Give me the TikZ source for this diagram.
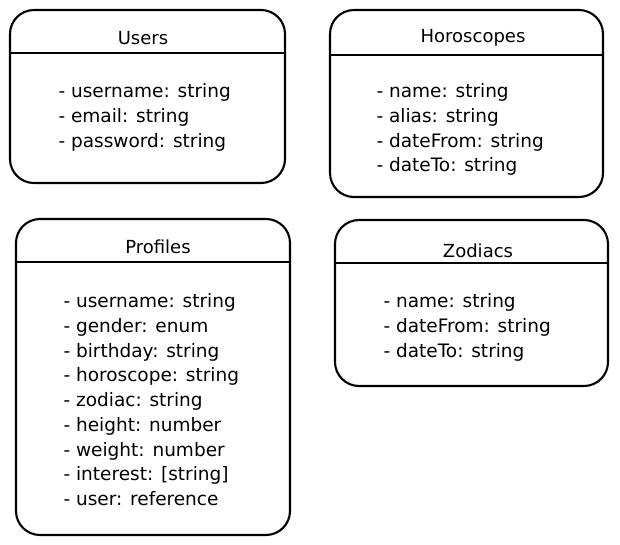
\documentclass[tikz,border=0pt]{standalone}
\usepackage{fontspec}
\setmainfont{DejaVu Sans}

\begin{document}
\begin{tikzpicture}[x=1pt,y=1pt,
	entity/.style={draw, line width=2.1pt, rounded corners=24pt},
	divider/.style={line width=2.5pt},
	title/.style={font=\fontsize{18}{21}\selectfont},
	fields/.style={anchor=base west, align=left, font=\fontsize{18.5}{24.6}\selectfont}]

	\useasboundingbox (0,0) rectangle (620,-545);

	% Users
	\draw[entity] (10,-10) rectangle (285,-183);
	\draw[divider] (10,-53) -- (285,-53);
	\node[title] (users) at (143,-38) {Users};
	% base = last line
	\node[fields] (usersf) at (55,-147.2) {- username: string\\- email: string\\- password: string};

	% Horoscopes
	\draw[entity] (330,-10) rectangle (603,-197);
	\draw[divider] (330,-55) -- (603,-55);
	\node[title] (horoscopes) at (473,-38) {Horoscopes};
	\node[fields] (horoscopesf) at (373,-171.8) {- name: string\\- alias: string\\- dateFrom: string\\- dateTo: string};

	% Profiles
	\draw[entity] (16,-219) rectangle (290,-535);
	\draw[divider] (16,-262) -- (290,-262);
	\node[title] (profiles) at (158,-247) {Profiles};
	\node[fields, font=\fontsize{18.5}{24.75}\selectfont] (profilesf) at (60,-505.5) {- username: string\\- gender: enum\\- birthday: string\\- horoscope: string\\- zodiac: string\\- height: number\\- weight: number\\- interest: [string]\\- user: reference};

	% Zodiacs
	\draw[entity] (335,-220) rectangle (608,-386);
	\draw[divider] (335,-263) -- (608,-263);
	\node[title] (zodiacs) at (478,-251) {Zodiacs};
	\node[fields] (zodiacsf) at (380,-357) {- name: string\\- dateFrom: string\\- dateTo: string};

\end{tikzpicture}
\end{document}
